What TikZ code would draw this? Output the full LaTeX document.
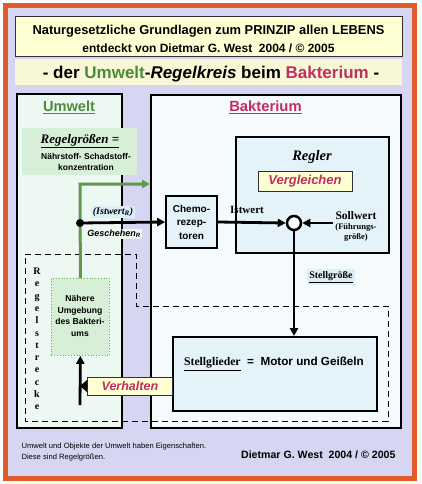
\documentclass[tikz,border=0pt]{standalone}
\usepackage{fontspec}
\setmainfont{Liberation Serif}
\setsansfont{Liberation Sans}
\usetikzlibrary{arrows.meta}
\definecolor{orangeF}{HTML}{E05A2A}
\definecolor{lav}{HTML}{D6D6F2}
\definecolor{titleY}{HTML}{FFFFD4}
\definecolor{bandY}{HTML}{F8F8D6}
\definecolor{titleB}{HTML}{303030}
\definecolor{umweltF}{HTML}{EEF8F3}
\definecolor{bakF}{HTML}{F5FAFD}
\definecolor{blueF}{HTML}{E4F2FA}
\definecolor{lblue}{HTML}{DCEEF8}
\definecolor{greenF}{HTML}{D6EFD6}
\definecolor{greenL}{HTML}{5E9A4C}
\definecolor{greenT}{HTML}{4E8A3C}
\definecolor{greenD}{HTML}{6AAA5A}
\definecolor{crimson}{HTML}{C0305E}
\begin{document}
\begin{tikzpicture}[x=1pt,y=-1pt,
  panel/.style={draw=black, line width=2pt, anchor=north west, inner sep=0pt},
  blackarrow/.style={line width=2.8pt, -{Triangle[length=8pt,width=8pt]}},
  greenarrow/.style={draw=greenL, line width=3pt, -{Triangle[length=8pt,width=8pt]}},
  sfb/.style={font=\sffamily\bfseries\fontsize{#1}{\dimexpr#1pt+3pt\relax}\selectfont},
  rmb/.style={font=\rmfamily\bfseries\fontsize{#1}{\dimexpr#1pt+3pt\relax}\selectfont},
]
\useasboundingbox (0,0) rectangle (421,484);
\fill[white] (0,0) rectangle (421,484);
\fill[orangeF] (3,3) rectangle (417,481);
\fill[lav] (8,8) rectangle (412,476);

% title
\node[draw=titleB, line width=1.2pt, fill=titleY, minimum width=387pt, minimum height=40pt, anchor=north west, inner sep=0pt] (title) at (15,16) {};
\node[font=\sffamily\bfseries\fontsize{12.9}{15}\selectfont] (t1) at (208.5,31) {Naturgesetzliche Grundlagen zum PRINZIP allen LEBENS};
\node[font=\sffamily\bfseries\fontsize{12}{14}\selectfont] (t2) at (208.5,48) {entdeckt von Dietmar G. West\ \ 2004 / © 2005};

% band
\node[fill=bandY, minimum width=387pt, minimum height=26pt, anchor=north west, inner sep=0pt] (band) at (15,59) {};
\node[font=\sffamily\bfseries\fontsize{17}{20}\selectfont] (sub) at (211,74) {- der \textcolor{greenT}{Umwelt}-\textit{Regelkreis} beim \textcolor{crimson}{Bakterium} -};

% main panels
\node[panel, fill=umweltF, minimum width=105pt, minimum height=334pt] (umwelt) at (16,93) {};
\node[panel, fill=bakF, minimum width=250pt, minimum height=333pt] (bakterium) at (150,94) {};

\node[font=\sffamily\bfseries\fontsize{14.6}{17}\selectfont, text=greenT] (uwlabel) at (69,107) {\underline{Umwelt}};
\node[font=\sffamily\bfseries\fontsize{14.8}{17}\selectfont, text=crimson] (bklabel) at (265.5,107) {\underline{Bakterium}};

% Regelgroessen box
\node[fill=greenF, minimum width=115pt, minimum height=47pt, anchor=north west, inner sep=0pt] (rgbox) at (22,128) {};
\node[font=\rmfamily\bfseries\itshape\fontsize{13}{15}\selectfont] (rg) at (80,141) {\underline{Regelgrößen =}};
\node[sfb=8.5, align=center] (ns) at (86,162) {Nährstoff- Schadstoff-\\konzentration};

% Regler
\node[panel, fill=blueF, minimum width=153pt, minimum height=116pt] (regler) at (235,136) {};
\node[font=\rmfamily\bfseries\itshape\fontsize{14.5}{17}\selectfont] (reglerlbl) at (312,157) {Regler};
\node[draw=titleB, line width=1pt, fill=titleY, minimum width=94pt, minimum height=20pt, inner sep=0pt,
      font=\sffamily\bfseries\itshape\fontsize{13}{15}\selectfont, text=crimson] (vergl) at (305,181) {Vergleichen};

% Chemorezeptoren
\node[draw=black, line width=1.6pt, fill=blueF, minimum width=51pt, minimum height=52pt, inner sep=0pt,
      font=\sffamily\bfseries\fontsize{10}{13.5}\selectfont, align=center] (chemo) at (191.5,222) {Chemo-\\rezep-\\toren};

% comparator
\node[circle, draw=black, line width=2.5pt, fill=white, minimum size=14pt, inner sep=0pt] (cmp) at (294,223) {};

% Stellglieder
\node[panel, fill=blueF, minimum width=204pt, minimum height=74pt] (stell) at (172,336) {};
\node[sfb=11.7] (stelltxt) at (274,364) {{\rmfamily\underline{Stellglieder}}\ \ =\ \ Motor und Geißeln};

% Naehere Umgebung
\node[draw=greenD, dotted, line width=0.8pt, fill=greenF, minimum width=58pt, minimum height=77pt, anchor=north west, inner sep=0pt] (naehere) at (51,278) {};
\node[font=\sffamily\bfseries\fontsize{8.6}{11.7}\selectfont, align=center] (naeheretxt) at (80,316) {Nähere\\Umgebung\\des Bakteri-\\ums};

% Regelstrecke dashed region
\draw[line width=1pt, dash pattern=on 6pt off 4pt] (25,254) -- (136,254) -- (136,306) -- (388,306) -- (388,421) -- (25,421) -- cycle;
\node[align=center, font=\rmfamily\bfseries\fontsize{10}{12.3}\selectfont] (rs) at (37,339) {R\\e\\g\\e\\l\\s\\t\\r\\e\\c\\k\\e};

% connectors
\coordinate (gturn) at (80,184);
\draw[greenarrow] (naehere.north) -- (gturn) -- (bakterium.west |- gturn);

\coordinate (dot) at (80,223);
\draw[blackarrow] (dot) -- (chemo.west);
\fill (dot) circle (4);
\draw[blackarrow] (chemo.east) -- (cmp.west);
\coordinate (sollstart) at (333,223);
\draw[blackarrow] (sollstart) -- (cmp.east);
\draw[blackarrow] (cmp.south) -- (cmp.south |- stell.north);
\coordinate (vstart) at (80,405);
\draw[blackarrow] (vstart) -- (naehere.south);

% labels
\node[fill=lblue, inner sep=1.5pt, font=\rmfamily\bfseries\itshape\fontsize{10}{12}\selectfont] (istR) at (113,212) {(Istwert\textsubscript{R})};
\node[fill=umweltF, inner sep=1.5pt, font=\sffamily\bfseries\itshape\fontsize{9}{11}\selectfont] (gesch) at (114,234) {Geschehen\textsubscript{R}};
\node[rmb=11] (ist) at (247,210) {Istwert};
\node[rmb=11.5] (soll) at (356,216) {Sollwert};
\node[font=\rmfamily\bfseries\fontsize{8.5}{10}\selectfont, align=center] (fg) at (356,232) {(Führungs-\\größe)};
\node[fill=lblue, inner sep=2pt, rmb=10] (sg) at (331,277) {\underline{Stellgröße}};

% Verhalten
\node[draw=titleB, line width=0.8pt, fill=titleY, minimum width=85pt, minimum height=18pt, inner sep=0pt, anchor=west,
      font=\sffamily\bfseries\itshape\fontsize{12.5}{15}\selectfont, text=crimson] (verh) at (87,386) {Verhalten};
\fill ([yshift=6pt]verh.west) -- ([xshift=-7pt]verh.west) -- ([yshift=-6pt]verh.west) -- cycle;

% footer
\node[font=\sffamily\fontsize{7.6}{11}\selectfont, align=left, anchor=west] (foot) at (18,452) {Umwelt und Objekte der Umwelt haben Eigenschaften.\\Diese sind Regelgrößen.};
\node[font=\sffamily\bfseries\fontsize{10.6}{12}\selectfont, anchor=east] (sig) at (399,455) {Dietmar G. West\ \ 2004 / © 2005};
\end{tikzpicture}
\end{document}
